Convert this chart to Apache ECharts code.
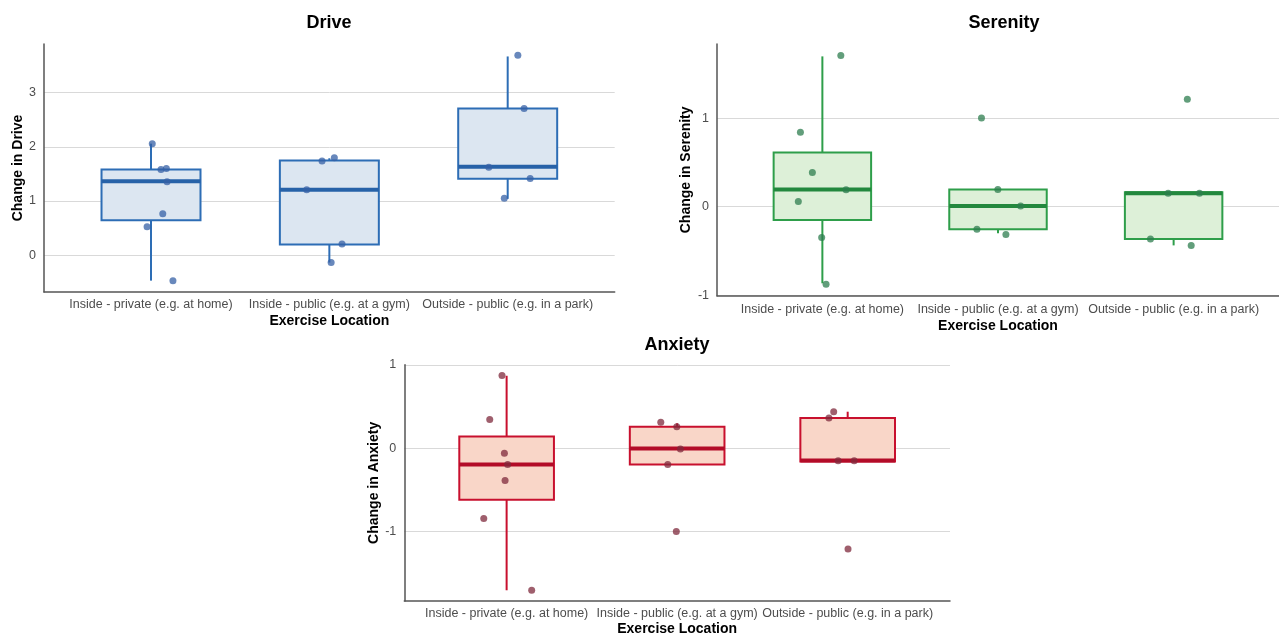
<!DOCTYPE html>
<html>
<head>
<meta charset="utf-8">
<script src="https://cdn.jsdelivr.net/npm/echarts@6/dist/echarts.min.js"></script>
<style>
  html, body { margin: 0; padding: 0; background: #ffffff; }
  #chart { width: 1279px; height: 637px; }
</style>
</head>
<body>
<div id="chart"></div>
<script>
// ---------- data ----------
const categories = [
  'Inside - private (e.g. at home)',
  'Inside - public (e.g. at a gym)',
  'Outside - public (e.g. in a park)'
];

// box statistics per category: [lower whisker, Q1, median, Q3, upper whisker]
const driveStats = [
  [-0.47, 0.645, 1.363, 1.584, 2.06],
  [-0.136, 0.195, 1.208, 1.75, 1.79],
  [1.04, 1.41, 1.632, 2.707, 3.67]
];
const driveValues = [
  [2.06, 1.58, 1.60, 1.355, 0.766, 0.527, -0.473],
  [1.737, 1.80, 1.21, 0.208, -0.136],
  [3.69, 2.71, 1.626, 1.418, 1.05]
];
const driveJitter = [
  [0.007, 0.056, 0.086, 0.09, 0.066, -0.022, 0.123],
  [-0.041, 0.028, -0.127, 0.071, 0.01],
  [0.057, 0.092, -0.106, 0.126, -0.019]
];

const serenityStats = [
  [-0.866, -0.151, 0.195, 0.613, 1.70],
  [-0.30, -0.256, 0.007, 0.195, 0.195],
  [-0.437, -0.366, 0.153, 0.165, 0.165]
];
const serenityValues = [
  [1.711, 0.842, 0.387, 0.192, 0.06, -0.347, -0.877],
  [1.004, 0.195, 0.007, -0.256, -0.313],
  [1.214, 0.153, 0.153, -0.366, -0.437]
];
const serenityJitter = [
  [0.105, -0.125, -0.057, 0.135, -0.137, -0.004, 0.021],
  [-0.094, -0.001, 0.129, -0.120, 0.045],
  [0.078, -0.031, 0.147, -0.132, 0.1]
];

const anxietyStats = [
  [-1.707, -0.618, -0.194, 0.1425, 0.871],
  [-0.194, -0.194, -0.004, 0.258, 0.30],
  [-0.158, -0.158, -0.146, 0.364, 0.439]
];
const anxietyValues = [
  [0.875, 0.344, -0.059, -0.194, -0.388, -0.843, -1.707],
  [0.312, 0.258, -0.008, -0.194, -1.001],
  [0.439, 0.364, -0.151, -0.151, -1.211]
];
const anxietyJitter = [
  [-0.027, -0.099, -0.013, 0.006, -0.009, -0.134, 0.147],
  [-0.096, -0.002, 0.019, -0.055, -0.005],
  [-0.082, -0.11, -0.056, 0.038, 0.002]
];

const driveTicks = [0, 1, 2, 3];
const serenityTicks = [-1, 0, 1];
const anxietyTicks = [-1, 0, 1];

// ---------- styling ----------
const FONT = '"Liberation Sans", Arial, Helvetica, sans-serif';
const BOX_WIDTH = 0.555;

const panels = [
  {
    title: 'Drive', yName: 'Change in Drive',
    stats: driveStats, values: driveValues, jitter: driveJitter, ticks: driveTicks,
    yMin: -0.68, yMax: 3.90,
    grid: { left: 44, top: 44, right: 664.3, bottom: 345 },
    titleX: 329, titleY: 23, yNameGap: 19, xLabelMargin: 6, xNameGap: 22,
    stroke: '#2d6db5', median: '#2762a8', fill: '#dce6f1', point: '#3560a6'
  },
  {
    title: 'Serenity', yName: 'Change in Serenity',
    stats: serenityStats, values: serenityValues, jitter: serenityJitter, ticks: serenityTicks,
    yMin: -1.006, yMax: 1.84,
    grid: { left: 717, top: 44, right: -12, bottom: 341.3 },
    titleX: 1004, titleY: 23, yNameGap: 24, xLabelMargin: 7, xNameGap: 23,
    stroke: '#2e9e4a', median: '#23883e', fill: '#ddf0d8', point: '#2e7d4f'
  },
  {
    title: 'Anxiety', yName: 'Change in Anxiety',
    stats: anxietyStats, values: anxietyValues, jitter: anxietyJitter, ticks: anxietyTicks,
    yMin: -1.836, yMax: 1.004,
    grid: { left: 404.3, top: 364.7, right: 329, bottom: 33 },
    titleX: 677, titleY: 345, yNameGap: 22, xLabelMargin: 6, xNameGap: 21,
    stroke: '#c8102e', median: '#b30c28', fill: '#f9d6c8', point: '#7f2a3c'
  }
];

function makeRenderBox(p) {
  return function (params, api) {
    const x = api.value(0);
    const low = api.value(1), q1 = api.value(2), med = api.value(3), q3 = api.value(4), high = api.value(5);
    const hw = BOX_WIDTH / 2;
    const lt = api.coord([x - hw, q3]);
    const rb = api.coord([x + hw, q1]);
    const hi = api.coord([x, high]);
    const tq = api.coord([x, q3]);
    const bq = api.coord([x, q1]);
    const lo = api.coord([x, low]);
    const ml = api.coord([x - hw, med]);
    const mr = api.coord([x + hw, med]);
    return {
      type: 'group',
      children: [
        { type: 'line', shape: { x1: hi[0], y1: hi[1], x2: tq[0], y2: tq[1] }, style: { stroke: p.stroke, lineWidth: 2 } },
        { type: 'line', shape: { x1: bq[0], y1: bq[1], x2: lo[0], y2: lo[1] }, style: { stroke: p.stroke, lineWidth: 2 } },
        { type: 'rect', shape: { x: lt[0], y: lt[1], width: rb[0] - lt[0], height: rb[1] - lt[1] },
          style: { fill: p.fill, stroke: p.stroke, lineWidth: 2 } },
        { type: 'line', shape: { x1: ml[0], y1: ml[1], x2: mr[0], y2: mr[1] }, style: { stroke: p.median, lineWidth: 4 } }
      ]
    };
  };
}

const option = {
  backgroundColor: '#ffffff',
  animation: false,
  title: [],
  grid: [],
  xAxis: [],
  yAxis: [],
  series: []
};

panels.forEach((p, k) => {
  option.title.push({
    text: p.title,
    left: p.titleX, top: p.titleY,
    textAlign: 'center', textVerticalAlign: 'middle',
    padding: 0,
    textStyle: { fontFamily: FONT, fontSize: 18, fontWeight: 'bold', color: '#000000' }
  });
  option.grid.push(Object.assign({ containLabel: false }, p.grid));
  option.xAxis.push({
    type: 'value', gridIndex: k, min: -0.6, max: 2.6,
    name: 'Exercise Location', nameLocation: 'middle', nameGap: p.xNameGap,
    nameTextStyle: { fontFamily: FONT, fontSize: 14, fontWeight: 'bold', color: '#000000' },
    axisLine: { show: true, onZero: false, lineStyle: { color: '#555555', width: 1.5 } },
    axisTick: { show: false, customValues: [0, 1, 2] },
    splitLine: { show: false },
    axisLabel: {
      customValues: [0, 1, 2],
      margin: p.xLabelMargin,
      fontFamily: FONT, fontSize: 12.5, color: '#4d4d4d',
      formatter: (v) => categories[Math.round(v)] || ''
    }
  });
  option.yAxis.push({
    type: 'value', gridIndex: k, min: p.yMin, max: p.yMax,
    name: p.yName, nameLocation: 'middle', nameGap: p.yNameGap, nameRotate: 90,
    nameTextStyle: { fontFamily: FONT, fontSize: 14, fontWeight: 'bold', color: '#000000' },
    axisLine: { show: true, onZero: false, lineStyle: { color: '#555555', width: 1.5 } },
    axisTick: { show: false, customValues: p.ticks },
    splitLine: { show: true, lineStyle: { color: '#d9d9d9', width: 1 } },
    axisLabel: {
      customValues: p.ticks,
      margin: 8,
      fontFamily: FONT, fontSize: 12.5, color: '#4d4d4d'
    }
  });
  option.series.push({
    type: 'custom', xAxisIndex: k, yAxisIndex: k,
    renderItem: makeRenderBox(p),
    encode: { x: 0, y: [1, 2, 3, 4, 5] },
    data: p.stats.map((s, i) => [i].concat(s)),
    z: 2
  });
  const pts = [];
  p.values.forEach((arr, i) => {
    arr.forEach((v, j) => pts.push([i + p.jitter[i][j], v]));
  });
  option.series.push({
    type: 'scatter', xAxisIndex: k, yAxisIndex: k,
    symbol: 'circle', symbolSize: 7,
    itemStyle: { color: p.point, opacity: 0.75 },
    data: pts,
    z: 3
  });
});

const chart = echarts.init(document.getElementById('chart'), null, { renderer: 'canvas' });
chart.setOption(option);
</script>
</body>
</html>
